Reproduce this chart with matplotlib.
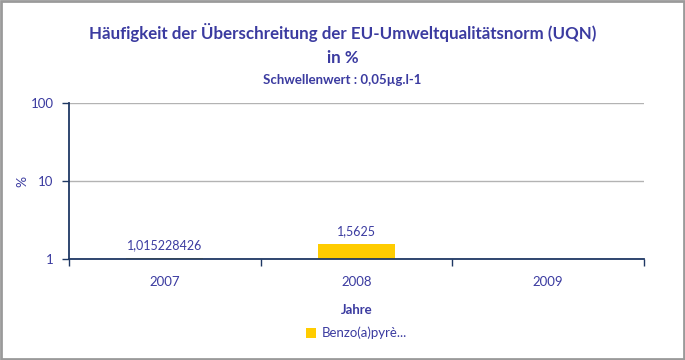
import matplotlib.pyplot as plt
import numpy as np
from matplotlib.patches import Rectangle

# Daten
jahre = ['2007', '2008', '2009']
werte = [1.015228426, 1.5625, np.nan]  # 2009: kein Wert
wert_labels = ['1,015228426', '1,5625', '']
serie = 'Benzo(a)pyrè...'

plt.rcParams['font.family'] = ['Lato', 'DejaVu Sans']
text_farbe = '#3b3ba0'
achsen_farbe = '#1f3864'
balken_farbe = '#ffcc00'

fig = plt.figure(figsize=(6.85, 3.6), dpi=100)
ax = fig.add_axes([69 / 685, 1 - 259 / 360, (644 - 69) / 685, (259 - 103) / 360])

x = np.arange(len(jahre))
hoehe = [v - 1 for v in werte]
bars = ax.bar(x, hoehe, bottom=1, width=0.4, color=balken_farbe, label=serie, zorder=2)

ax.set_yscale('log')
ax.set_ylim(1, 100)
ax.set_xlim(-0.5, len(jahre) - 0.5)
ax.set_yticks([1, 10, 100])
ax.set_yticklabels(['1', '10', '100'])
ax.yaxis.set_minor_locator(plt.NullLocator())

# Kategorien-Ticks an den Grenzen, Beschriftung in der Mitte
ax.set_xticks(np.arange(len(jahre) + 1) - 0.5)
ax.set_xticklabels([])
ax.set_xticks(x, minor=True)
ax.set_xticklabels(jahre, minor=True)
ax.tick_params(axis='x', which='minor', length=0, pad=12, labelsize=9.5, labelcolor=text_farbe)
ax.tick_params(axis='x', which='major', length=5, color=achsen_farbe, width=1)
ax.tick_params(axis='y', length=5, color=achsen_farbe, width=1, labelsize=9.5, labelcolor=text_farbe, pad=6)

ax.grid(axis='y', color='#b3b3b3', linewidth=1, zorder=0)
for s in ['top', 'right']:
    ax.spines[s].set_visible(False)
for s in ['left', 'bottom']:
    ax.spines[s].set_color(achsen_farbe)
    ax.spines[s].set_linewidth(1.3)
    ax.spines[s].set_zorder(3)

# Datenbeschriftungen
for xi, v, lab in zip(x, werte, wert_labels):
    if lab:
        ax.annotate(lab, (xi, v), xytext=(0, 5), textcoords='offset points',
                    ha='center', va='bottom', fontsize=9, color=text_farbe)

ax.set_ylabel('%', fontsize=10, color=text_farbe)
ax.yaxis.set_label_coords((28 - 69) / 575, 0.5)
ax.set_xlabel('Jahre', fontsize=9.5, fontweight='bold', color=text_farbe, labelpad=12)

fig.text(0.5, 1 - 33 / 360, 'Häufigkeit der Überschreitung der EU-Umweltqualitätsnorm (UQN)',
         ha='center', va='center', fontsize=12.2, fontweight='bold', color=text_farbe)
fig.text(0.5, 1 - 58 / 360, 'in %', ha='center', va='center', fontsize=12.2,
         fontweight='bold', color=text_farbe)
fig.text(0.5, 1 - 80 / 360, 'Schwellenwert : 0,05µg.l-1', ha='center', va='center',
         fontsize=9.5, fontweight='bold', color=text_farbe)

leg = fig.legend(handles=[bars], labels=[serie], loc='center', bbox_to_anchor=(0.52, 1 - 333 / 360),
                 frameon=False, fontsize=9.5, handlelength=0.8, handleheight=0.8, handletextpad=0.4)
for t in leg.get_texts():
    t.set_color(text_farbe)

# Rahmen um das Bild
fig.patches.append(Rectangle((0.0015, 0.002), 0.997, 0.996, transform=fig.transFigure,
                             fill=False, edgecolor='#9a9a9a', linewidth=2))

fig.savefig('out.png', dpi=100)
